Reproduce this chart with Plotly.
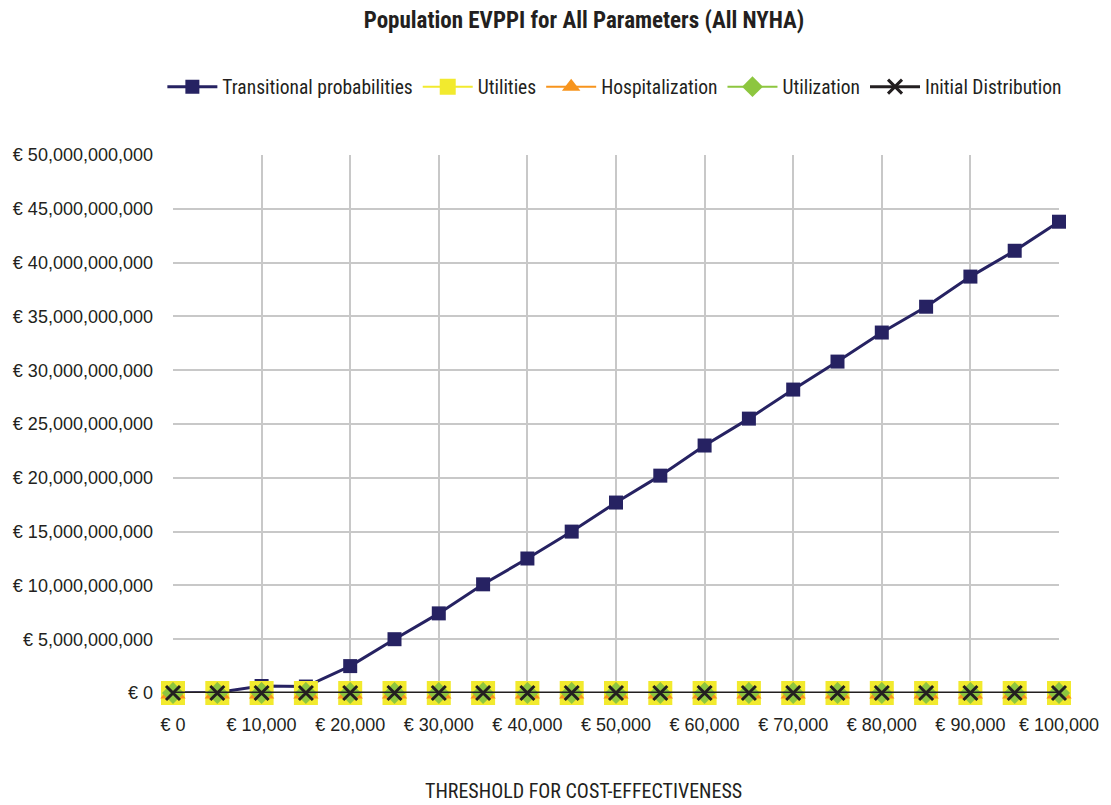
import plotly.graph_objects as go

# Willingness-to-pay thresholds (EUR per QALY)
thresholds = list(range(0, 100001, 5000))

# Population EVPPI per parameter group (EUR)
transitional = [0, 0.05e9, 0.65e9, 0.6e9, 2.5e9, 5.0e9, 7.4e9, 10.1e9, 12.5e9, 15.0e9,
                17.7e9, 20.2e9, 23.0e9, 25.5e9, 28.2e9, 30.8e9, 33.5e9, 35.9e9,
                38.7e9, 41.1e9, 43.8e9]
utilities = [0] * len(thresholds)
hospitalization = [0] * len(thresholds)
utilization = [0] * len(thresholds)
initial_distribution = [0] * len(thresholds)

x_ticks = list(range(0, 100001, 10000))
y_ticks = [i * 5e9 for i in range(11)]

NARROW = "Roboto Condensed, Liberation Sans Narrow, Arial Narrow, sans-serif"
REGULAR = "Liberation Sans, Arial, Helvetica, sans-serif"
INK = "#231f20"

fig = go.Figure()

series = [
    ("Transitional probabilities", transitional, "#262262", "square", 14, 3),
    ("Utilities", utilities, "#f2ea2e", "square", 24, 2),
    ("Hospitalization", hospitalization, "#f7941d", "triangle-up", 22, 2),
    ("Utilization", utilization, "#8dc63f", "diamond", 17, 2),
    ("Initial Distribution", initial_distribution, INK, "x-thin", 14, 3),
]

for name, vals, color, symbol, size, width in series:
    fig.add_trace(go.Scatter(
        x=thresholds, y=vals, name=name, mode="lines+markers",
        line=dict(color=color, width=width),
        marker=dict(symbol=symbol, size=size, color=color,
                    line=dict(color=color, width=3 if symbol == "x-thin" else 0)),
        cliponaxis=False,
    ))

fig.update_layout(
    width=1111, height=805,
    margin=dict(l=173, r=48, t=155, b=112),
    paper_bgcolor="white", plot_bgcolor="white",
    font=dict(family=REGULAR, size=18, color=INK),
    title=dict(text="<b>Population EVPPI for All Parameters (All NYHA)</b>",
               x=584 / 1111, xref="container", xanchor="center",
               y=1 - 20 / 805, yref="container", yanchor="middle",
               font=dict(family=NARROW, size=23, color=INK)),
    # legend sits just left of / above the plot area so it can use a single row
    legend=dict(orientation="h", x=-0.012, xanchor="left", xref="paper",
                y=(693 - 87) / 538, yref="paper", yanchor="middle",
                font=dict(family=NARROW, size=19.5, color=INK), itemwidth=50,
                traceorder="normal", tracegroupgap=0),
    showlegend=True,
    annotations=[dict(
        text="THRESHOLD FOR COST-EFFECTIVENESS",
        xref="paper", yref="paper", x=(585 - 173) / 890, y=-(791 - 693) / 538,
        xanchor="center", yanchor="middle", showarrow=False,
        font=dict(family=NARROW, size=20, color=INK),
    )],
)

fig.update_xaxes(
    range=[0, 100000], tickvals=x_ticks,
    ticktext=[f"€ {v:,}" for v in x_ticks],
    showgrid=True, gridcolor="#c8c8c8", gridwidth=1.5,
    zeroline=False, showline=False, ticks="", ticklen=0,
    ticklabelstandoff=19,
    tickfont=dict(family=REGULAR, size=18, color=INK),
)
fig.update_yaxes(
    range=[0, 50e9], tickvals=y_ticks,
    ticktext=[f"€ {int(v):,}" for v in y_ticks],
    showgrid=True, gridcolor="#c8c8c8", gridwidth=1.5,
    zeroline=False, showline=False, ticks="", ticklen=0,
    ticklabelstandoff=19,
    tickfont=dict(family=REGULAR, size=18, color=INK),
)

fig.write_html("out.html")
